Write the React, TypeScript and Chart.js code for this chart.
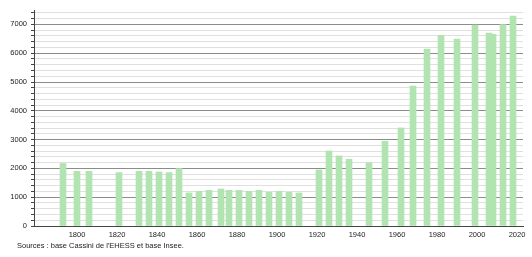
import { useEffect, useRef } from "react";
import { Chart, registerables } from "chart.js";

Chart.register(...registerables);

const years = [
  1793, 1800, 1806, 1821, 1831, 1836, 1841, 1846, 1851, 1856, 1861, 1866, 1872,
  1876, 1881, 1886, 1891, 1896, 1901, 1906, 1911, 1921, 1926, 1931, 1936, 1946,
  1954, 1962, 1968, 1975, 1982, 1990, 1999, 2006, 2008, 2013, 2018,
];
const population = [
  2170, 1900, 1900, 1855, 1900, 1900, 1877, 1855, 1995, 1150, 1205, 1240, 1285,
  1240, 1240, 1205, 1240, 1170, 1205, 1170, 1148, 1947, 2607, 2433, 2318, 2190,
  2944, 3406, 4856, 6142, 6618, 6490, 6976, 6698, 6653, 6990, 7290,
];
const yearTicks = [1800, 1820, 1840, 1860, 1880, 1900, 1920, 1940, 1960, 1980, 2000, 2020];
const popTicks = [0, 1000, 2000, 3000, 4000, 5000, 6000, 7000];
const sourceText = "Sources : base Cassini de l'EHESS et base Insee.";

const FONT = "'Liberation Sans', Arial, sans-serif";

export default function App() {
  const ref = useRef<HTMLCanvasElement>(null);
  useEffect(() => {
    document.body.style.margin = "0";
    const minor: number[] = [];
    for (let v = 0; v <= 7400; v += 200) minor.push(v);
    const chart = new Chart(ref.current!, {
      type: "bar",
      data: {
        datasets: [
          {
            data: years.map((y, i) => ({ x: y, y: population[i] })),
            backgroundColor: "#b2e4b2",
            borderWidth: 0,
            barThickness: 6,
          },
        ],
      },
      options: {
        animation: false,
        responsive: false,
        plugins: { legend: { display: false }, tooltip: { enabled: false } },
        layout: { padding: { left: 0, right: 9, top: 10, bottom: 11 } },
        scales: {
          x: {
            type: "linear",
            offset: false,
            min: 1778.5,
            max: 2023,
            afterBuildTicks: (s: any) => {
              s.ticks = yearTicks.map((v) => ({ value: v }));
            },
            afterFit: (s: any) => {
              s.height = 20;
            },
            grid: { display: true, color: "transparent", drawTicks: false, offset: false },
            border: { color: "#444", width: 1 },
            ticks: {
              padding: 4,
              color: "#222",
              autoSkip: false,
              maxRotation: 0,
              font: { family: FONT, size: 7.5 },
              callback: (v: any) => String(v),
            },
          },
          y: {
            min: 0,
            max: 7500,
            afterBuildTicks: (s: any) => {
              s.ticks = minor.map((v) => ({ value: v }));
            },
            afterFit: (s: any) => {
              s.width = 34;
            },
            grid: {
              color: (c: any) =>
                c.tick && c.tick.value % 1000 === 0 ? "#8c8c8c" : "#e0e0e0",
              tickColor: "#444",
              tickLength: 3,
            },
            border: { color: "#444", width: 1 },
            ticks: {
              padding: 4,
              color: "#222",
              autoSkip: false,
              font: { family: FONT, size: 7.5 },
              callback: (v: any) => (popTicks.includes(v) ? String(v) : ""),
            },
          },
        },
      },
    });
    return () => chart.destroy();
  }, []);
  return (
    <div style={{ position: "relative", width: 532, height: 257 }}>
      <canvas ref={ref} width={532} height={257} />
      <div
        style={{
          position: "absolute",
          left: 17,
          top: 241,
          fontFamily: FONT,
          fontSize: "7.5px",
          color: "#222",
          whiteSpace: "nowrap",
        }}
      >
        {sourceText}
      </div>
    </div>
  );
}
